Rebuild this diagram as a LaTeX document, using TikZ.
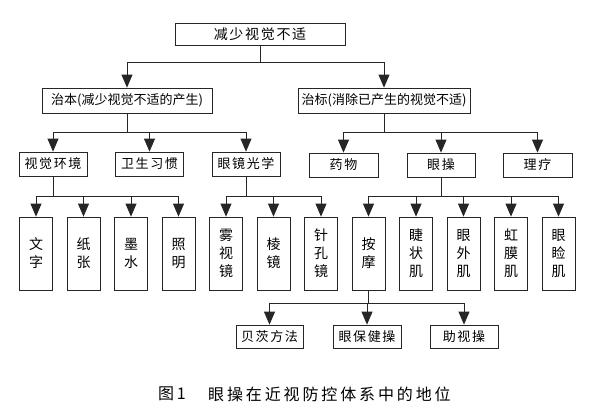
\documentclass[tikz,border=0pt]{standalone}
\usepackage{fontspec}
\newfontfamily\cjk[LetterSpace=12]{Noto Sans CJK SC}
\newfontfamily\cjkplain{Noto Sans CJK SC}
\newfontfamily\cjkcap[LetterSpace=18]{Noto Sans CJK SC}
\usetikzlibrary{arrows.meta}
\newcommand\linkto[3]{\draw[link] (#1.south) -- (#1.south |- #2) -| (#3.north);}
\begin{document}
\begin{tikzpicture}[x=1pt,y=-1pt,
  box/.style={draw=black!85, line width=0.8pt, inner sep=0pt, fill=white},
  hbox/.style={box, minimum height=24pt, font=\cjk\fontsize{13}{13}\selectfont},
  vbox/.style={box, minimum width=33pt, minimum height=73pt, align=center,
               font=\cjk\fontsize{14}{18}\selectfont},
  link/.style={draw=black!85, line width=0.8pt, -{Triangle[length=13pt,width=11pt]}},
]
\useasboundingbox[fill=white] (0,0) rectangle (600,410);

% level 1
\node[hbox, minimum width=170pt, minimum height=22pt, font=\cjk\fontsize{14}{14}\selectfont] (top) at (260,34) {减少视觉不适};

% level 2
\node[hbox, minimum width=170pt, minimum height=25pt, font=\cjkplain\fontsize{13}{13}\selectfont] (L) at (127,100.5) {治本(减少视觉不适的产生)};
\node[hbox, minimum width=172pt, minimum height=25pt, font=\cjkplain\fontsize{13}{13}\selectfont] (R) at (384,100.5) {治标(消除已产生的视觉不适)};

% level 3
\node[hbox, minimum width=68pt] (a1) at (53,164) {视觉环境};
\node[hbox, minimum width=68pt] (a2) at (149.5,164) {卫生习惯};
\node[hbox, minimum width=68pt] (a3) at (246,164) {眼镜光学};
\node[hbox, minimum width=69pt] (b1) at (343.5,165) {药物};
\node[hbox, minimum width=68pt] (b2) at (441,165) {眼操};
\node[hbox, minimum width=69pt] (b3) at (537.5,165) {理疗};

% level 4
\node[vbox] (c1) at (36,253.5) {文\\字};
\node[vbox] (c2) at (83.5,253.5) {纸\\张};
\node[vbox] (c3) at (131,253.5) {墨\\水};
\node[vbox] (c4) at (178.5,253.5) {照\\明};
\node[vbox] (c5) at (226,253.5) {雾\\视\\镜};
\node[vbox] (c6) at (273.5,253.5) {棱\\镜};
\node[vbox] (c7) at (321,253.5) {针\\孔\\镜};
\node[vbox] (c8) at (368.5,253.5) {按\\摩};
\node[vbox] (c9) at (416,253.5) {睫\\状\\肌};
\node[vbox] (c10) at (463.5,253.5) {眼\\外\\肌};
\node[vbox] (c11) at (511,253.5) {虹\\膜\\肌};
\node[vbox] (c12) at (558.5,253.5) {眼\\睑\\肌};

% level 5
\node[hbox, minimum width=67pt, minimum height=23pt] (d1) at (269.5,336.5) {贝茨方法};
\node[hbox, minimum width=68pt, minimum height=23pt] (d2) at (367,336.5) {眼保健操};
\node[hbox, minimum width=68pt, minimum height=23pt] (d3) at (464,336.5) {助视操};

% caption
\node[anchor=west, inner sep=0pt, font=\cjkplain\fontsize{16}{16}\selectfont] (cap1) at (158,394) {图\,1};
\node[anchor=west, inner sep=0pt, font=\cjkcap\fontsize{16}{16}\selectfont] (cap2) at (208,394) {眼操在近视防控体系中的地位};

% bus levels
\coordinate (bus1) at (0,62);
\coordinate (bus2) at (0,132);
\coordinate (bus3) at (0,196);
\coordinate (bus4) at (0,303);

% connectors
\linkto{top}{bus1}{L}
\linkto{top}{bus1}{R}
\foreach \c in {a1,a2,a3} {\linkto{L}{bus2}{\c}}
\foreach \c in {b1,b2,b3} {\linkto{R}{bus2}{\c}}
\foreach \c in {c1,c2,c3,c4} {\linkto{a1}{bus3}{\c}}
\foreach \c in {c5,c6,c7} {\linkto{a3}{bus3}{\c}}
\foreach \c in {c8,c9,c10,c11,c12} {\linkto{b2}{bus3}{\c}}
\foreach \c in {d1,d2,d3} {\linkto{c8}{bus4}{\c}}
\end{tikzpicture}
\end{document}
